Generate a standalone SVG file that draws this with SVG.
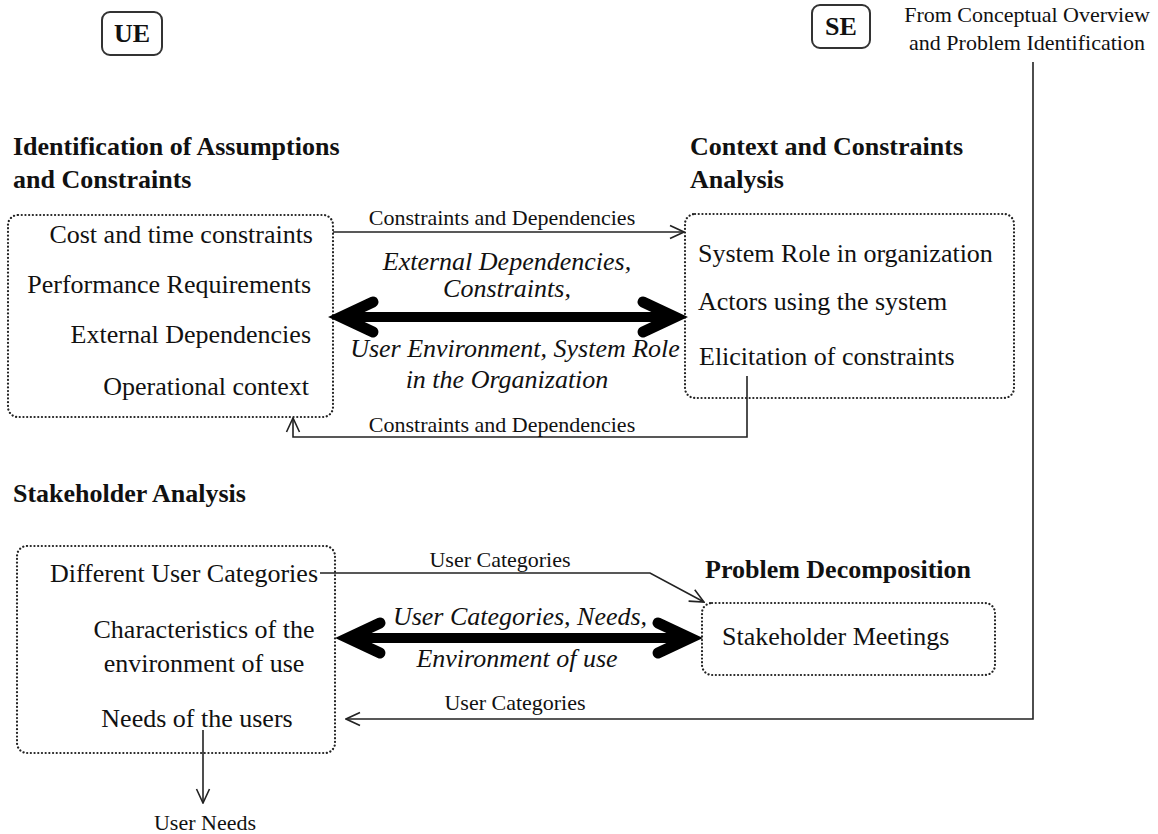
<svg xmlns="http://www.w3.org/2000/svg" width="1158" height="834" viewBox="0 0 1158 834">
<style>
text{font-family:"Liberation Serif","Times New Roman",serif;fill:#111}
.t{font-size:26px;font-weight:bold}
.i{font-size:26px}
.it{font-size:26px;font-style:italic}
.l{font-size:22px}
.box{fill:none;stroke:#222;stroke-width:2.2;stroke-dasharray:0.1 3.6;stroke-linecap:round}
.tag{fill:#fff;stroke:#333;stroke-width:2}
.c{fill:none;stroke:#222;stroke-width:1.6}
.thick{fill:none;stroke:#000;stroke-width:10}
.head{fill:none;stroke:#000;stroke-width:11;stroke-linecap:round;stroke-linejoin:miter}
</style>
<defs>
<marker id="a" viewBox="0 0 16 16" refX="15" refY="8" markerWidth="16" markerHeight="16" markerUnits="userSpaceOnUse" orient="auto">
<path d="M1,1.5 L15,8 L1,14.5" fill="none" stroke="#222" stroke-width="1.6"/>
</marker>
</defs>
<rect width="1158" height="834" fill="#fff"/>

<g id="ue"><rect class="tag" x="102" y="12" width="60" height="43" rx="8"/><text class="t" x="132" y="42" text-anchor="middle">UE</text></g>
<g id="se"><rect class="tag" x="812" y="5" width="58" height="43" rx="8"/><text class="t" x="841" y="35" text-anchor="middle">SE</text></g>
<g id="source"><text class="l" x="1027" y="22" text-anchor="middle">From Conceptual Overview</text><text class="l" x="1027" y="50" text-anchor="middle">and Problem Identification</text></g>

<g id="assumptions">
<text class="t" x="13" y="155">Identification of Assumptions</text>
<text class="t" x="13" y="188">and Constraints</text>
<rect class="box" x="8" y="215" width="325" height="202" rx="10"/>
<text class="i" x="313" y="243" text-anchor="end">Cost and time constraints</text>
<text class="i" x="311" y="293" text-anchor="end">Performance Requirements</text>
<text class="i" x="311" y="343" text-anchor="end">External Dependencies</text>
<text class="i" x="309" y="395" text-anchor="end">Operational context</text>
</g>

<g id="context">
<text class="t" x="690" y="155">Context and Constraints</text>
<text class="t" x="690" y="188">Analysis</text>
<rect class="box" x="685" y="214" width="329" height="184" rx="10"/>
<text class="i" x="698" y="262">System Role in organization</text>
<text class="i" x="698" y="310">Actors using the system</text>
<text class="i" x="699" y="365">Elicitation of constraints</text>
</g>

<g id="stakeholder">
<text class="t" x="13" y="502">Stakeholder Analysis</text>
<rect class="box" x="17" y="546" width="318" height="207" rx="10"/>
<text class="i" x="318" y="582" text-anchor="end">Different User Categories</text>
<text class="i" x="204" y="638" text-anchor="middle">Characteristics of the</text>
<text class="i" x="204" y="672" text-anchor="middle">environment of use</text>
<text class="i" x="197" y="727" text-anchor="middle">Needs of the users</text>
</g>

<g id="decomposition">
<text class="t" x="705" y="578">Problem Decomposition</text>
<rect class="box" x="702" y="603" width="293" height="72" rx="10"/>
<text class="i" x="722" y="645">Stakeholder Meetings</text>
</g>

<g id="connectors">
<line class="c" x1="333" y1="232" x2="684" y2="232" marker-end="url(#a)"/>
<text class="l" x="502" y="225" text-anchor="middle">Constraints and Dependencies</text>
<polyline class="c" points="747,376 747,437 293,437 293,418" marker-end="url(#a)"/>
<text class="l" x="502" y="432" text-anchor="middle">Constraints and Dependencies</text>

<line class="thick" x1="344" y1="317" x2="672" y2="317"/>
<path class="head" d="M373,302 L341,317 L373,332"/>
<path class="head" d="M643,302 L675,317 L643,332"/>
<text class="it" x="507" y="270" text-anchor="middle">External Dependencies,</text>
<text class="it" x="507" y="297" text-anchor="middle">Constraints,</text>
<text class="it" x="515" y="357" text-anchor="middle">User Environment, System Role</text>
<text class="it" x="507" y="388" text-anchor="middle">in the Organization</text>

<polyline class="c" points="320,573 650,573 704,602" marker-end="url(#a)"/>
<text class="l" x="500" y="567" text-anchor="middle">User Categories</text>

<line class="thick" x1="351" y1="638" x2="687" y2="638"/>
<path class="head" d="M380,623 L348,638 L380,653"/>
<path class="head" d="M658,623 L690,638 L658,653"/>
<text class="it" x="520" y="625" text-anchor="middle">User Categories, Needs,</text>
<text class="it" x="517" y="667" text-anchor="middle">Environment of use</text>

<polyline class="c" points="1033,62 1033,719 346,719" marker-end="url(#a)"/>
<text class="l" x="515" y="710" text-anchor="middle">User Categories</text>

<line class="c" x1="203" y1="730" x2="203" y2="803" marker-end="url(#a)"/>
<text class="l" x="205" y="830" text-anchor="middle">User Needs</text>
</g>
</svg>
